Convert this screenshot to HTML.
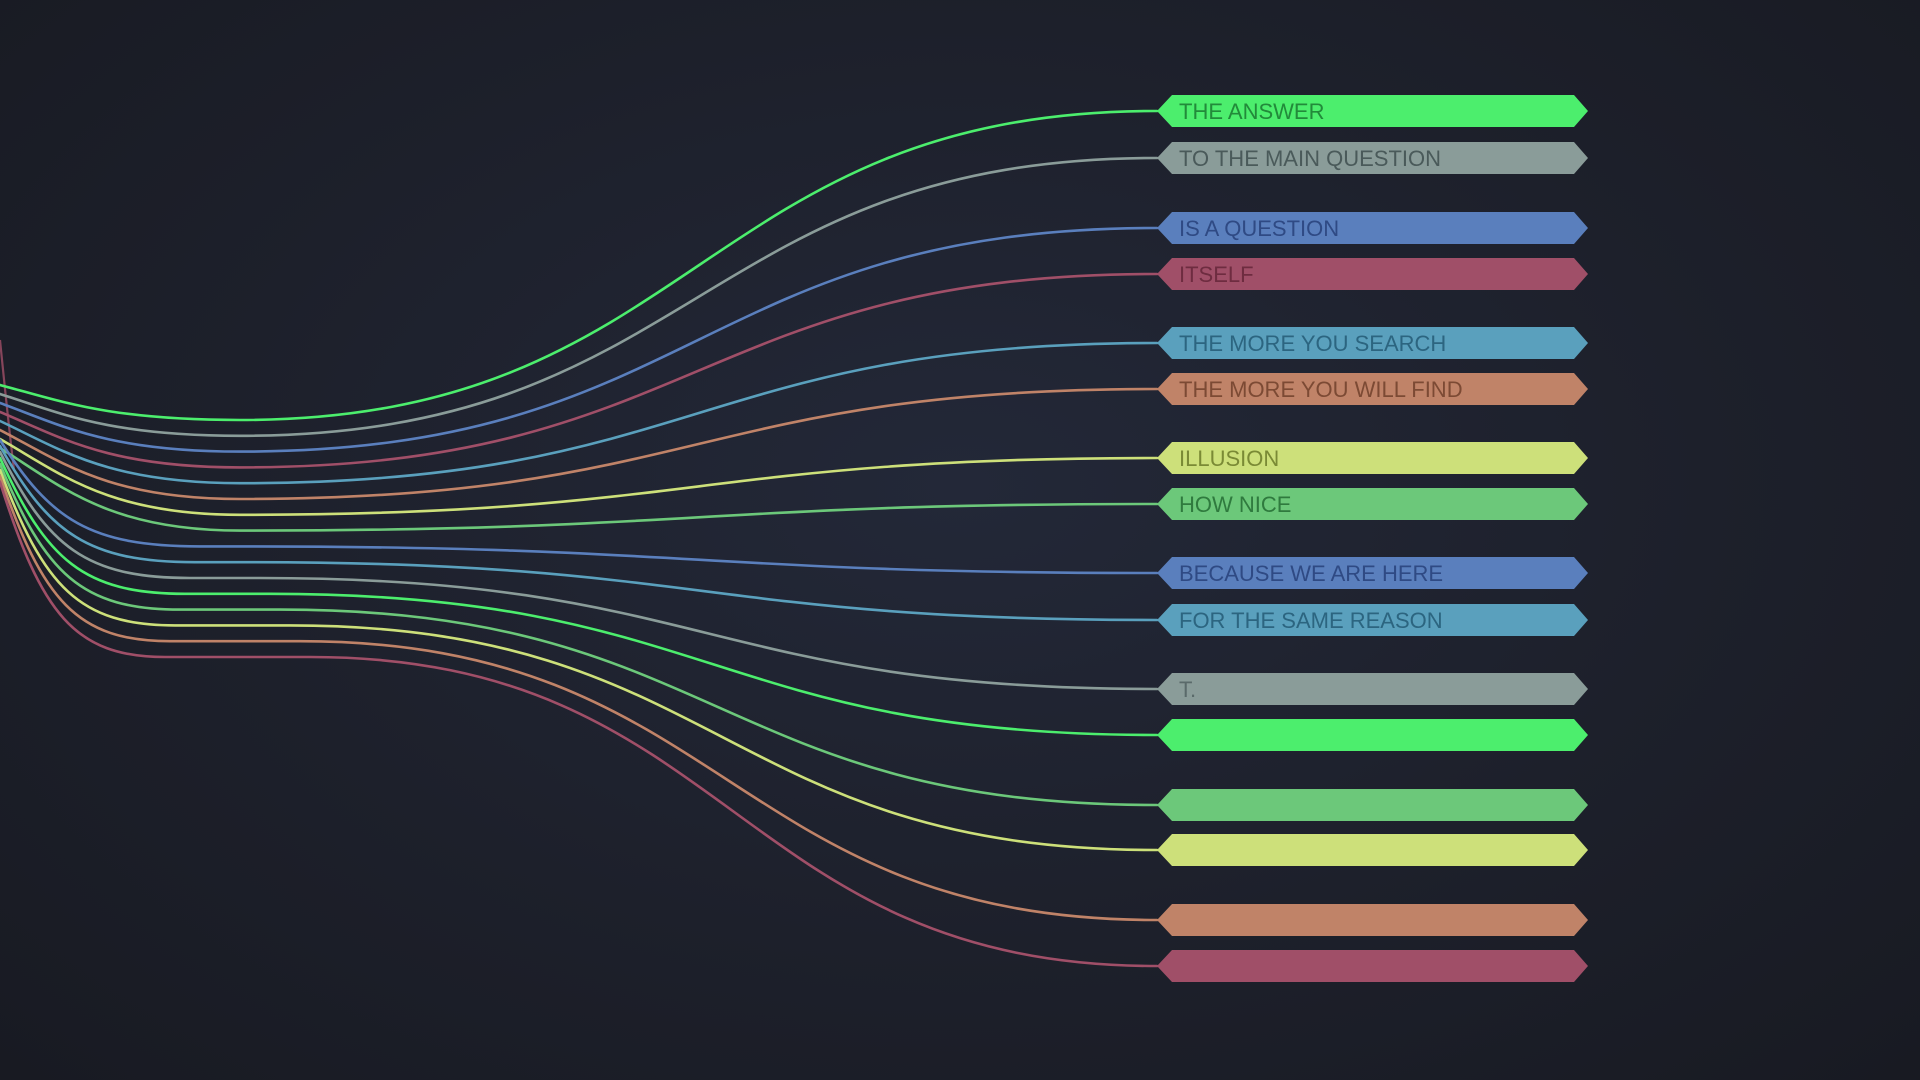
<!DOCTYPE html>
<html><head><meta charset="utf-8"><style>
html,body{margin:0;padding:0;width:1920px;height:1080px;overflow:hidden;background:#1b1e28;}
#bg{position:absolute;left:0;top:0;width:1920px;height:1080px;background:radial-gradient(ellipse at 50% 45%,#232838 0%,#1d202b 55%,#181a22 100%);}
svg{position:absolute;left:0;top:0;}
text{font-family:"Liberation Sans",sans-serif;font-size:22px;}
</style></head><body>
<div id="bg"></div>
<svg id="s" width="1920" height="1080" viewBox="0 0 1920 1080">
<path d="M0,340 C4,380 8,420 14,470" stroke="#a04f68" stroke-width="2.2" fill="none" opacity="0.8"/>
<g id="curves" fill="none" stroke-width="2.6" stroke-linecap="round"></g>
<g id="labels">
<polygon points="1172,95 1574,95 1588,111 1574,127 1172,127 1157,111" fill="#4cee6d"/>
<text x="1179" y="119" fill="#228a3a">THE ANSWER</text>
<polygon points="1172,142 1574,142 1588,158 1574,174 1172,174 1157,158" fill="#8a9c99"/>
<text x="1179" y="166" fill="#4a5a5a">TO THE MAIN QUESTION</text>
<polygon points="1172,212 1574,212 1588,228 1574,244 1172,244 1157,228" fill="#5a7fbd"/>
<text x="1179" y="236" fill="#2f4a84">IS A QUESTION</text>
<polygon points="1172,258 1574,258 1588,274 1574,290 1172,290 1157,274" fill="#a04f68"/>
<text x="1179" y="282" fill="#6e2c40">ITSELF</text>
<polygon points="1172,327 1574,327 1588,343 1574,359 1172,359 1157,343" fill="#5aa0bd"/>
<text x="1179" y="351" fill="#2c6580">THE MORE YOU SEARCH</text>
<polygon points="1172,373 1574,373 1588,389 1574,405 1172,405 1157,389" fill="#c08368"/>
<text x="1179" y="397" fill="#7c4a34">THE MORE YOU WILL FIND</text>
<polygon points="1172,442 1574,442 1588,458 1574,474 1172,474 1157,458" fill="#cde07a"/>
<text x="1179" y="466" fill="#7a8a35">ILLUSION</text>
<polygon points="1172,488 1574,488 1588,504 1574,520 1172,520 1157,504" fill="#6cc87a"/>
<text x="1179" y="512" fill="#2f7a3e">HOW NICE</text>
<polygon points="1172,557 1574,557 1588,573 1574,589 1172,589 1157,573" fill="#5a7fbd"/>
<text x="1179" y="581" fill="#2f4a84">BECAUSE WE ARE HERE</text>
<polygon points="1172,604 1574,604 1588,620 1574,636 1172,636 1157,620" fill="#5aa0bd"/>
<text x="1179" y="628" fill="#2c6580">FOR THE SAME REASON</text>
<polygon points="1172,673 1574,673 1588,689 1574,705 1172,705 1157,689" fill="#8a9c99"/>
<text x="1179" y="697" fill="#5a6a6a">T.</text>
<polygon points="1172,719 1574,719 1588,735 1574,751 1172,751 1157,735" fill="#4cee6d"/>
<polygon points="1172,789 1574,789 1588,805 1574,821 1172,821 1157,805" fill="#6cc87a"/>
<polygon points="1172,834 1574,834 1588,850 1574,866 1172,866 1157,850" fill="#cde07a"/>
<polygon points="1172,904 1574,904 1588,920 1574,936 1172,936 1157,920" fill="#c08368"/>
<polygon points="1172,950 1574,950 1588,966 1574,982 1172,982 1157,966" fill="#a04f68"/>
</g>
</svg>
<script>
var cols=["#4cee6d","#8a9c99","#5a7fbd","#a04f68","#5aa0bd","#c08368","#cde07a","#6cc87a","#5a7fbd","#5aa0bd","#8a9c99","#4cee6d","#6cc87a","#cde07a","#c08368","#a04f68"];
var ly=[111,158,228,274,343,389,458,504,573,620,689,735,805,850,920,966];
var g=document.getElementById("curves");var h="";
for(var i=0;i<16;i++){
 var yf=420+i*15.8;
 var ys=i<8?385+i*9:440+(i-8)*6;
 var xf=i<8?240:200-(i-8)*5;
 var x2=i<8?240:240+(i-8)*10;
 var d="M0,"+ys+" C"+(xf*0.25)+","+(ys+(yf-ys)*(i<8?0.45:0.75))+" "+(xf*0.45)+","+yf+" "+xf+","+yf+" L"+x2+","+yf;
 var span=1157-x2;
 d+=" C"+(x2+span*0.5)+","+yf+" "+(1157-span*0.5)+","+ly[i]+" 1157,"+ly[i];
 h+='<path d="'+d+'" stroke="'+cols[i]+'"/>';
}
g.innerHTML=h;
</script>
</body></html>
